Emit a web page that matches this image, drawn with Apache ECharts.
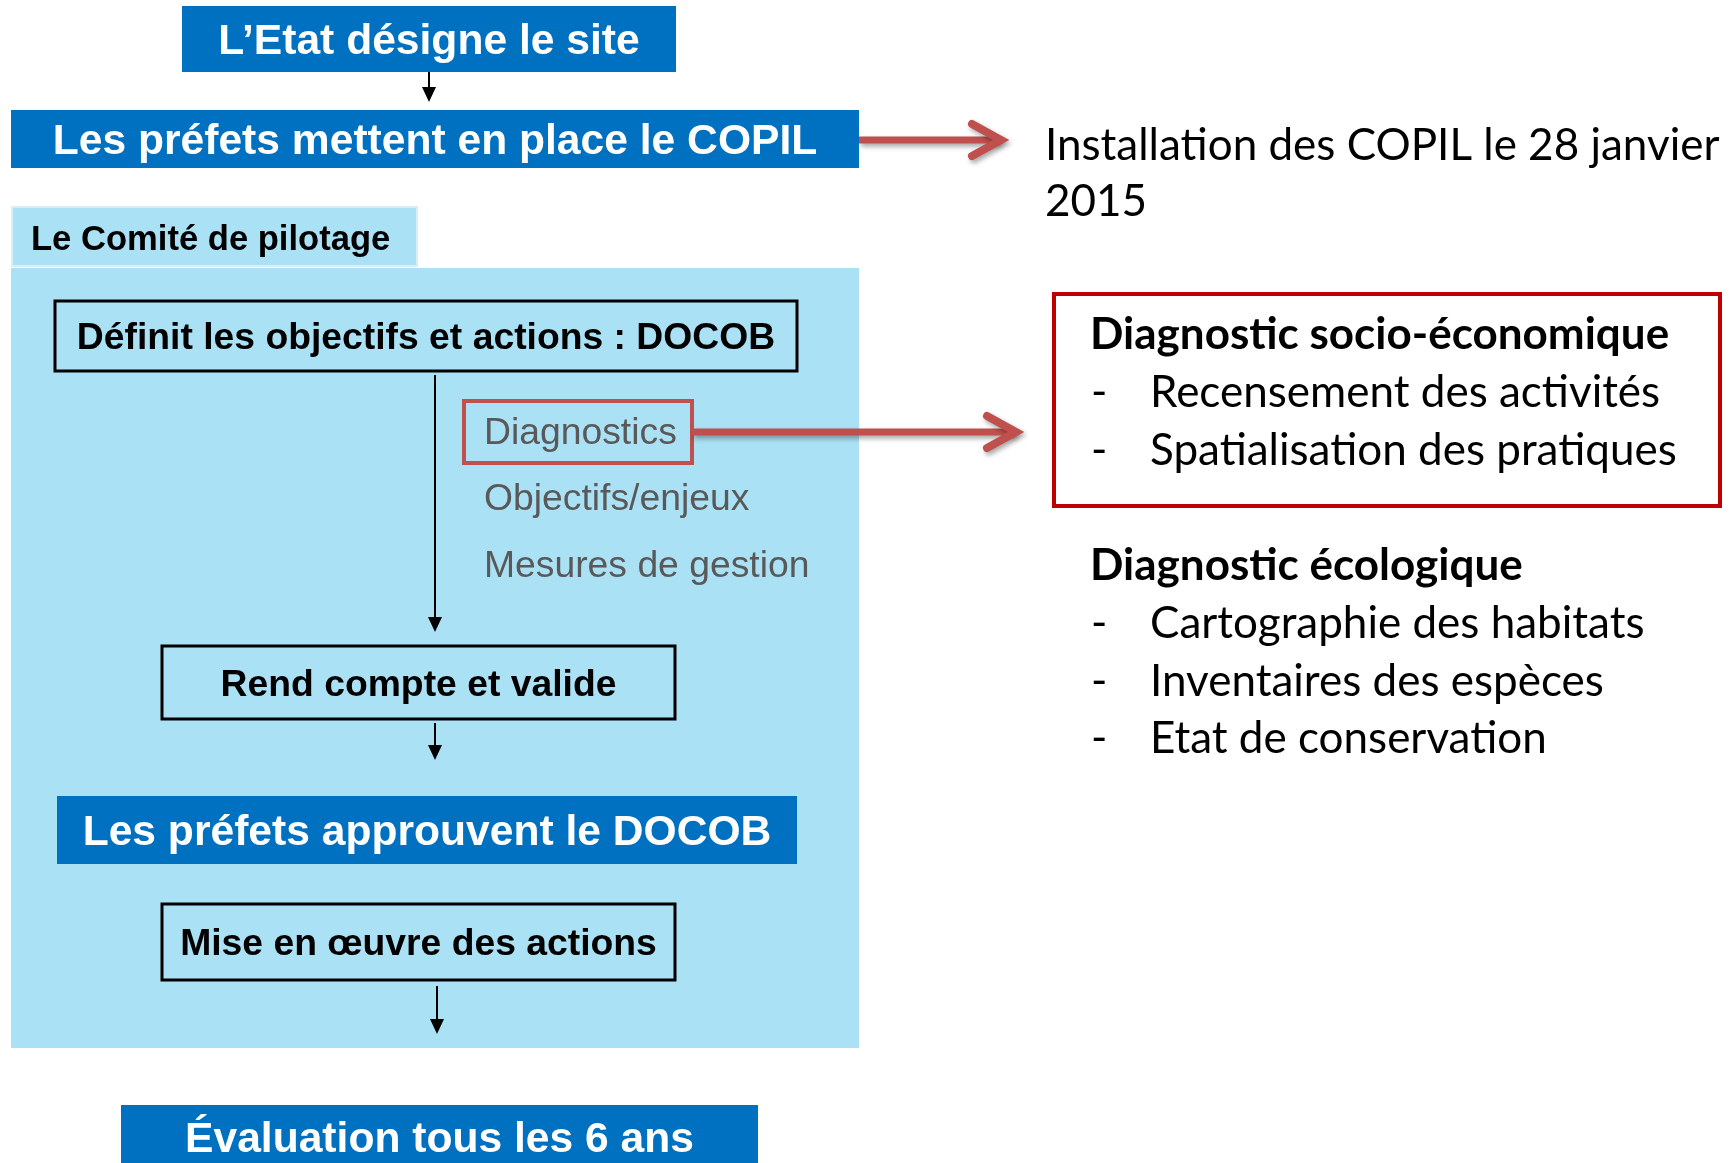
<!DOCTYPE html>
<html lang="fr">
<head>
<meta charset="UTF-8" />
<title>Comité de pilotage</title>
<script src="https://cdn.jsdelivr.net/npm/echarts@6/dist/echarts.min.js"></script>
<style>
    html, body { margin: 0; padding: 0; background: #fff; }
    #chart { width: 1731px; height: 1163px; }
</style>
</head>
<body>
<div id="chart"></div>
<script>
    // texts of the diagram
    const blueSteps = [
        "L’Etat désigne le site",
        "Les préfets mettent en place le COPIL",
        "Les préfets approuvent le DOCOB",
        "Évaluation tous les 6 ans"
    ];
    const committeeTitle = "Le Comité de pilotage";
    const committeeSteps = [
        "Définit les objectifs et actions : DOCOB",
        "Rend compte et valide",
        "Mise en œuvre des actions"
    ];
    const docobParts = ["Diagnostics", "Objectifs/enjeux", "Mesures de gestion"];
    const copilNote = ["Installation des COPIL le 28 janvier", "2015"];
    const socioTitle = "Diagnostic socio-économique";
    const socioItems = ["Recensement des activités", "Spatialisation des pratiques"];
    const ecoTitle = "Diagnostic écologique";
    const ecoItems = ["Cartographie des habitats", "Inventaires des espèces", "Etat de conservation"];

    // layout (pixels)
    const blueBoxes = [
        [182, 6, 494, 66],
        [11, 110, 848, 58],
        [57, 796, 740, 68],
        [121, 1105, 637, 80]
    ];
    const stepBoxes = [
        [55, 301, 742, 70],
        [162, 646, 513, 73],
        [162, 904, 513, 76]
    ];
    const blackArrows = [
        [429, 72, 102],
        [435, 375, 632],
        [435, 723, 760],
        [437, 986, 1034]
    ];
    const partsY = [434, 500, 567];

    const BLUE = "#0070C0";
    const LIGHT = "#ABE1F5";
    const RED = "#C0504D";
    const ARIAL = '"Liberation Sans", Arial, sans-serif';
    const CALIBRI = 'Lato, "Open Sans", sans-serif';

    const els = [];

    // committee panel + tab
    els.push({ type: "rect", shape: { x: 11, y: 268, width: 848, height: 780 }, style: { fill: LIGHT } });
    els.push({ type: "rect", shape: { x: 12, y: 207, width: 405, height: 59 }, style: { fill: LIGHT, stroke: "#D6EEFA", lineWidth: 2 } });
    els.push({ type: "text", style: { text: committeeTitle, x: 31, y: 240, font: "bold 34.6px " + ARIAL, fill: "#000", textAlign: "left", textVerticalAlign: "middle" } });

    blueSteps.forEach((t, i) => {
        const [x, y, w, h] = blueBoxes[i];
        els.push({ type: "text", z: 2, style: { text: t, x: x + w / 2, y: i === 3 ? 1140 : y + h / 2 + 3, font: "bold 42.6px " + ARIAL, fill: "#fff", textAlign: "center", textVerticalAlign: "middle" } });
        els.push({ type: "rect", z: 1, shape: { x, y, width: w, height: h }, style: { fill: BLUE } });
    });

    committeeSteps.forEach((t, i) => {
        const [x, y, w, h] = stepBoxes[i];
        els.push({ type: "rect", shape: { x, y, width: w, height: h }, style: { fill: "none", stroke: "#000", lineWidth: 3 } });
        els.push({ type: "text", style: { text: t, x: x + w / 2, y: y + h / 2 + 3, font: "bold 37.3px " + ARIAL, fill: "#000", textAlign: "center", textVerticalAlign: "middle" } });
    });

    blackArrows.forEach(([x, y0, y1]) => {
        els.push({ type: "line", shape: { x1: x, y1: y0, x2: x, y2: y1 - 12 }, style: { stroke: "#000", lineWidth: 2 } });
        els.push({ type: "polygon", shape: { points: [[x - 7, y1 - 15], [x + 7, y1 - 15], [x, y1]] }, style: { fill: "#000" } });
    });

    // docob parts
    docobParts.forEach((t, i) => {
        els.push({ type: "text", style: { text: t, x: 484, y: partsY[i], font: "37.3px " + ARIAL, fill: "#595959", textAlign: "left", textVerticalAlign: "middle" } });
    });
    els.push({ type: "rect", shape: { x: 464, y: 401, width: 228, height: 62 }, style: { fill: "none", stroke: RED, lineWidth: 4 } });

    // red arrows
    function redArrow(x0, x1, y) {
        const shadow = { shadowBlur: 5, shadowOffsetX: 2, shadowOffsetY: 3, shadowColor: "rgba(0,0,0,0.35)" };
        els.push({ type: "line", shape: { x1: x0, y1: y, x2: x1 - 8, y2: y }, style: Object.assign({ stroke: RED, lineWidth: 7 }, shadow) });
        els.push({ type: "polyline", shape: { points: [[x1 - 36, y - 16], [x1 - 7, y], [x1 - 36, y + 16]] }, style: Object.assign({ stroke: RED, lineWidth: 8, lineCap: "round", lineJoin: "miter", fill: "none" }, shadow) });
    }
    redArrow(859, 1008, 140);
    redArrow(692, 1023, 432);

    // right side texts
    copilNote.forEach((t, i) => {
        els.push({ type: "text", style: { text: t, x: 1045, y: 146 + i * 56, font: "44px " + CALIBRI, fill: "#000", textAlign: "left", textVerticalAlign: "middle" } });
    });

    els.push({ type: "rect", shape: { x: 1054, y: 294, width: 666, height: 212 }, style: { fill: "none", stroke: "#C00000", lineWidth: 4 } });

    function block(title, items, y0) {
        els.push({ type: "text", style: { text: title, x: 1090, y: y0, font: "bold 44px " + CALIBRI, fill: "#000", textAlign: "left", textVerticalAlign: "middle" } });
        items.forEach((t, i) => {
            const y = y0 + 58 + i * 57.5;
            els.push({ type: "text", style: { text: "-", x: 1091, y, font: "44px " + CALIBRI, fill: "#000", textAlign: "left", textVerticalAlign: "middle" } });
            els.push({ type: "text", style: { text: t, x: 1150, y, font: "44px " + CALIBRI, fill: "#000", textAlign: "left", textVerticalAlign: "middle" } });
        });
    }
    block(socioTitle, socioItems, 335);
    block(ecoTitle, ecoItems, 566);

    const chart = echarts.init(document.getElementById("chart"), null, { renderer: "canvas" });
    chart.setOption({
        animation: false,
        graphic: { elements: els }
    });
</script>
</body>
</html>
